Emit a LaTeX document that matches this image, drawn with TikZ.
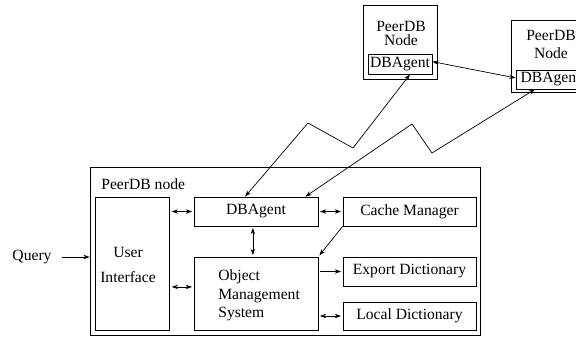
\documentclass[tikz,border=0pt]{standalone}
\usepackage{fontspec}
\setmainfont{Liberation Serif}
\usetikzlibrary{arrows.meta}
\newlength\pxu
\setlength\pxu{0.64pt}
\begin{document}
\begin{tikzpicture}
    [
    x=0.64pt, y=-0.64pt,
    >={Stealth[length=4pt,width=2.8pt]},
    every node/.style={font=\fontsize{10}{12}\selectfont},
    box/.style={draw,rectangle,inner sep=0pt,line width=0.5pt},
    txt/.style={inner sep=0pt},
    link/.style={line width=0.45pt}
    ]
    \useasboundingbox (0,0) rectangle (576,337);
    % local peer
    \node (outer) at (285,251) [box,minimum width=390*\pxu,minimum height=168*\pxu] {};
    \node (title) at (101,184) [txt,anchor=west] {PeerDB node};
    \node (ui) at (132,263.5) [box,minimum width=74*\pxu,minimum height=133*\pxu] {};
    \node (uitext) at (128,264.5) [txt,align=center] {User\\[4pt]Interface};
    \node (agent) at (256,211.5) [box,minimum width=124*\pxu,minimum height=29*\pxu] {DBAgent};
    \node (cache) at (409.5,211.5) [box,minimum width=133*\pxu,minimum height=29*\pxu] {Cache Manager};
    \node (oms) at (256,293.5) [box,minimum width=124*\pxu,minimum height=73*\pxu] {};
    \node (omstext) at (218,295.5) [txt,anchor=west,align=left] {Object\\Management\\System};
    \node (export) at (409.5,271.5) [box,minimum width=133*\pxu,minimum height=29*\pxu] {Export Dictionary};
    \node (local) at (409.5,316) [box,minimum width=133*\pxu,minimum height=28*\pxu] {Local Dictionary};
    \node (query) at (32,257) [txt] {Query};
    % remote peers
    \node (peer1) at (400,42) [box,minimum width=74*\pxu,minimum height=74*\pxu] {};
    \node (peer1text) at (401,33) [txt,align=center] {PeerDB\\[-3pt]Node};
    \node (agent1) at (400,64) [box,minimum width=64*\pxu,minimum height=20*\pxu] {DBAgent};
    \node (peer2) at (550.5,56) [box,minimum width=79*\pxu,minimum height=72*\pxu] {};
    \node (peer2text) at (551,44) [txt,align=center] {PeerDB\\[-0.5pt]Node};
    \node (agent2) at (550.5,79.5) [box,minimum width=69*\pxu,minimum height=19*\pxu] {DBAgent};
    \coordinate (z1a) at (353,148);
    \coordinate (z1b) at (308,123);
    \coordinate (z2a) at (432,153);
    \coordinate (z2b) at (412,124);
    \draw [link,->,shorten <=6.4pt] (query) to (query -| outer.west);
    \draw [link,<->,shorten <=1.5pt,shorten >=1pt] (agent.west -| ui.east) to (agent.west);
    \draw [link,<->,shorten <=1.5pt,shorten >=1pt] ([yshift=4.2pt]oms.west -| ui.east) to ([yshift=4.2pt]oms.west);
    \draw [link,<->,shorten <=1pt,shorten >=1pt] (agent.east) to (cache.west);
    \draw [link,<->,shorten <=1pt,shorten >=1pt] ([xshift=-2pt]agent.south) to ([xshift=-2pt]oms.north);
    \draw [link,->,shorten >=1pt] (cache.south west) to (oms.north east);
    \draw [link,->,shorten <=1pt,shorten >=1pt] (export.west -| oms.east) to (export.west);
    \draw [link,<->,shorten <=1pt,shorten >=1pt] (local.west -| oms.east) to (local.west);
    \draw [link,<->] ([yshift=1.5pt]agent1.east) to ([yshift=1pt]agent2.west);
    \draw [link,<->] ([xshift=6.4pt]agent1.south) -- (z1a) -- (z1b) -- ([xshift=-7pt]agent.north);
    \draw [link,<->] ([xshift=-10pt]agent2.south) -- (z2a) -- (z2b) -- ([xshift=-8.3pt]agent.north east);
\end{tikzpicture}
\end{document}
